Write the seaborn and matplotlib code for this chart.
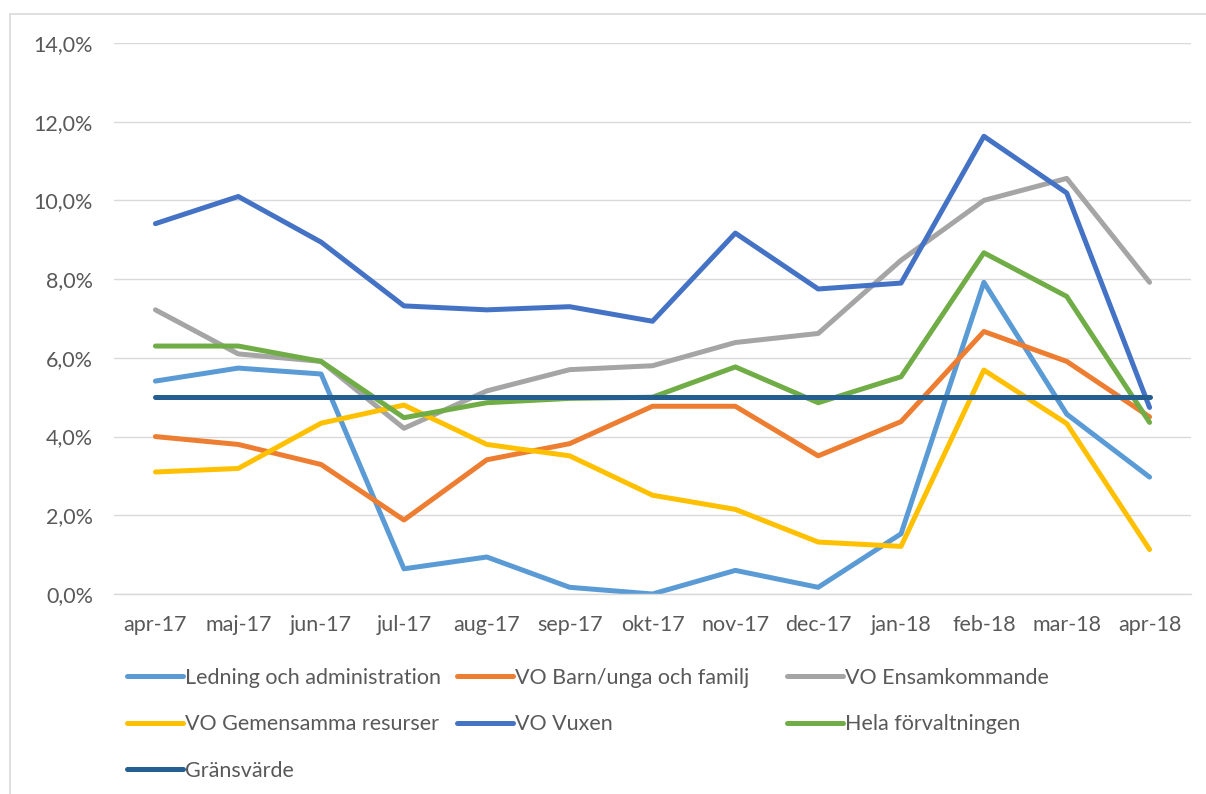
import matplotlib
matplotlib.use("Agg")
import matplotlib.pyplot as plt
from matplotlib.lines import Line2D
from matplotlib.ticker import FuncFormatter, FixedLocator
import seaborn as sns
import pandas as pd

months = ["apr-17", "maj-17", "jun-17", "jul-17", "aug-17", "sep-17", "okt-17",
          "nov-17", "dec-17", "jan-18", "feb-18", "mar-18", "apr-18"]
ledning = [5.41, 5.74, 5.59, 0.64, 0.94, 0.17, 0.00, 0.60, 0.17, 1.53, 7.92, 4.57, 2.97]
barn = [4.00, 3.80, 3.29, 1.88, 3.41, 3.82, 4.77, 4.77, 3.51, 4.38, 6.67, 5.91, 4.50]
ensam = [7.22, 6.10, 5.91, 4.21, 5.16, 5.70, 5.80, 6.39, 6.62, 8.48, 10.00, 10.56, 7.92]
gemensamma = [3.10, 3.19, 4.34, 4.80, 3.80, 3.51, 2.51, 2.15, 1.32, 1.21, 5.69, 4.33, 1.13]
vuxen = [9.41, 10.10, 8.94, 7.32, 7.22, 7.30, 6.93, 9.17, 7.75, 7.90, 11.63, 10.19, 4.74]
hela = [6.30, 6.30, 5.91, 4.48, 4.86, 4.97, 5.00, 5.77, 4.86, 5.52, 8.67, 7.56, 4.36]
grans = [5.0, 5.0, 5.0, 5.0, 5.0, 5.0, 5.0, 5.0, 5.0, 5.0, 5.0, 5.0, 5.0]

series_names = ["Ledning och administration", "VO Barn/unga och familj", "VO Ensamkommande",
                "VO Gemensamma resurser", "VO Vuxen", "Hela förvaltningen", "Gränsvärde"]
series_values = [ledning, barn, ensam, gemensamma, vuxen, hela, grans]
colors = ["#5B9BD5", "#ED7D31", "#A5A5A5", "#FFC000", "#4472C4", "#70AD47", "#255E91"]

rows = []
for name, vals in zip(series_names, series_values):
    for i, v in enumerate(vals):
        rows.append({"idx": i, "month": months[i], "value": v, "serie": name})
df = pd.DataFrame(rows)

sns.set_theme(style="white")
plt.rcParams["font.family"] = ["Lato", "DejaVu Sans"]
TXT = "#595959"
GRID = "#d9d9d9"
FS = 15.5
LW = 3.6

fig = plt.figure(figsize=(12.06, 7.94), dpi=100)
ax = fig.add_axes([114 / 1206, 1 - 594 / 794, (1191 - 114) / 1206, (594 - 43) / 794])

sns.lineplot(data=df, x="idx", y="value", hue="serie", hue_order=series_names,
             palette=dict(zip(series_names, colors)), linewidth=LW, ax=ax,
             legend=False, errorbar=None, sort=False)
for ln in ax.lines:
    ln.set_solid_capstyle("round")
    ln.set_solid_joinstyle("round")

ax.set_xlim(-0.5, 12.5)
ax.set_ylim(0, 14)
ax.set_yticks([0, 2, 4, 6, 8, 10, 12, 14])
ax.yaxis.set_major_formatter(FuncFormatter(lambda v, p: f"{v:.1f}%".replace(".", ",")))
ax.set_xticks(range(len(months)))
ax.set_xticklabels(months)
ax.xaxis.set_minor_locator(FixedLocator([i - 0.5 for i in range(len(months) + 1)]))
ax.tick_params(axis="x", which="major", length=0, pad=15, labelsize=FS, labelcolor=TXT)
ax.tick_params(axis="x", which="minor", length=7, width=1, color=GRID, direction="out")
ax.tick_params(axis="y", length=0, pad=15, labelsize=FS, labelcolor=TXT)
ax.set_xlabel("")
ax.set_ylabel("")
ax.grid(axis="y", color=GRID, linewidth=1)
ax.set_axisbelow(True)
for s in ["top", "right", "left"]:
    ax.spines[s].set_visible(False)
ax.spines["bottom"].set_color(GRID)
ax.spines["bottom"].set_linewidth(1)

# legends: three columns
columns = [([0, 3, 6], 127), ([1, 4], 457), ([2, 5], 787)]
for idxs, xpx in columns:
    hs = [Line2D([0], [0], color=colors[i], lw=LW, solid_capstyle="round") for i in idxs]
    labs = [series_names[i] for i in idxs]
    leg = fig.legend(hs, labs, loc="upper left", bbox_to_anchor=(xpx / 1206, 1 - 668 / 794),
                     frameon=False, fontsize=FS, handlelength=2.6, handletextpad=0.1,
                     labelspacing=1.22, borderpad=0, borderaxespad=0)
    for t in leg.get_texts():
        t.set_color(TXT)

# chart border (top and left visible)
fig.add_artist(Line2D([10 / 1206, 10 / 1206], [0, 1 - 14 / 794], color=GRID, lw=1.2,
                      transform=fig.transFigure))
fig.add_artist(Line2D([10 / 1206, 1], [1 - 14 / 794, 1 - 14 / 794], color=GRID, lw=1.2,
                      transform=fig.transFigure))

fig.savefig("out.png", dpi=100, facecolor="white")
